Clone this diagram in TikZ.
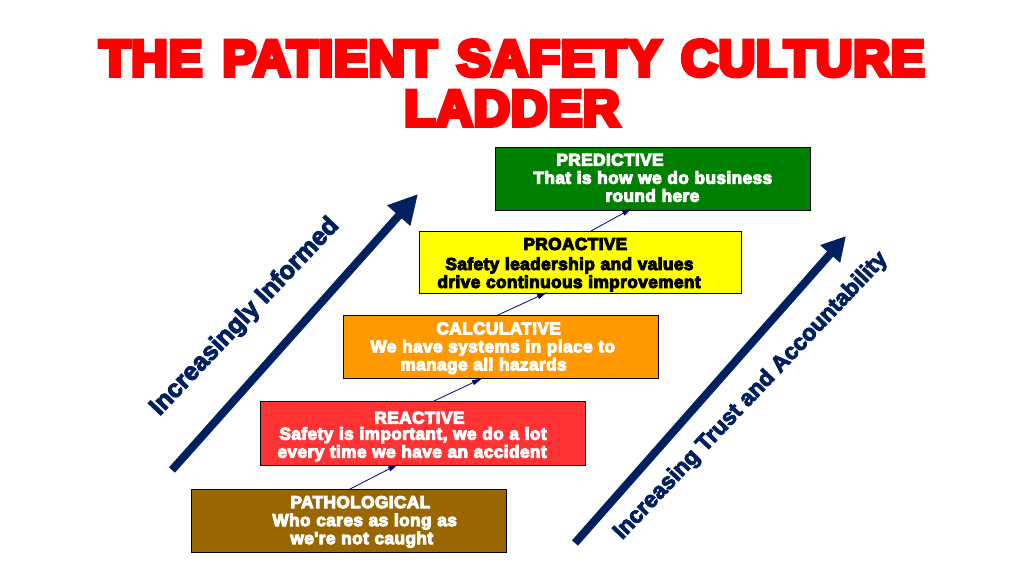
\documentclass[tikz,border=0pt]{standalone}
\usepackage{fontspec}
\usetikzlibrary{arrows.meta,calc}
\setmainfont{Liberation Sans}
\newfontfamily\heavy{Liberation Sans Bold}[FakeBold=6,LetterSpace=2.5,WordSpace=1.8]
\newfontfamily\heavytitle{Liberation Sans Bold}[FakeBold=9,LetterSpace=1.8,WordSpace=1.34]
\newfontfamily\heavyside{Liberation Sans Bold}[FakeBold=4]
\definecolor{navyline}{HTML}{002060}
\definecolor{conn}{HTML}{000080}
\definecolor{brownbox}{HTML}{996600}
\definecolor{redbox}{HTML}{FF3333}
\definecolor{orangebox}{HTML}{FF9900}
\definecolor{greenbox}{HTML}{008000}
\definecolor{yellowbox}{HTML}{FFFF00}
\tikzset{
  stepbox/.style={draw=black,line width=0.9pt,anchor=north west,inner xsep=0pt,inner ysep=0pt,
    align=left,font=\heavy\fontsize{17.2}{18}\selectfont},
  link/.style={draw=conn,line width=0.8pt,-{Triangle[length=10pt,width=5pt]}},
  bigarrow/.style={draw=navyline,line width=8pt,-{Triangle[length=29pt,width=29pt]}},
  sidelabel/.style={text=navyline,rotate=46.5,inner sep=0pt},
  titletext/.style={text=red,font=\heavytitle\fontsize{50.6}{50}\selectfont,align=center,inner sep=0pt}
}
\begin{document}
\begin{tikzpicture}[x=1pt,y=-1pt]
\useasboundingbox (0,0) rectangle (1024,576);
\node[titletext] (title) at (512,83) {THE PATIENT SAFETY CULTURE\\LADDER};

\node[stepbox,fill=brownbox,text=white,text width=314.5pt,minimum height=62.5pt] (path) at (191,489)
  {\rule{0pt}{14.4pt}\hspace*{99pt}PATHOLOGICAL\\\hspace*{81pt}Who cares as long as\\\hspace*{99pt}we're not caught};
\node[stepbox,fill=redbox,text=white,text width=324.5pt,minimum height=63.5pt] (react) at (260,401)
  {\rule{0pt}{18.5pt}\hspace*{114pt}REACTIVE\\[-2pt]\hspace*{19pt}Safety is important, we do a lot\\\hspace*{17pt}every time we have an accident};
\node[stepbox,fill=orangebox,text=white,text width=314.5pt,minimum height=62.5pt] (calc) at (343,315)
  {\rule{0pt}{15pt}\hspace*{93pt}CALCULATIVE\\\hspace*{27pt}We have systems in place to\\\hspace*{57pt}manage all hazards};
\node[stepbox,fill=yellowbox,text=black,text width=321.5pt,minimum height=61.5pt] (proact) at (419,231)
  {\rule{0pt}{17pt}\hspace*{104pt}PROACTIVE\\[2pt]\hspace*{26pt}Safety leadership and values\\\hspace*{18pt}drive continuous improvement};
\node[stepbox,fill=greenbox,text=white,text width=314.5pt,minimum height=62.5pt] (pred) at (495,147)
  {\hspace*{61pt}PREDICTIVE\\\hspace*{38pt}That is how we do business\\\hspace*{110pt}round here\rule[-2pt]{0pt}{0pt}};

\draw[link] ([xshift=159pt]path.north west) -- ([xshift=138pt,yshift=1pt]react.south west);
\draw[link] ([xshift=174pt]react.north west) -- ([xshift=139pt]calc.south west);
\draw[link] ([xshift=155pt]calc.north west) -- ([xshift=128pt,yshift=1pt]proact.south west);
\draw[link] ([xshift=172pt]proact.north west) -- ([xshift=137pt,yshift=2pt]pred.south west);

\coordinate (ltail) at (172,470);
\coordinate (ltip) at (418,194);
\coordinate (rtail) at (575,543);
\coordinate (rtip) at (846,236);
\draw[bigarrow] (ltail) -- (ltip);
\draw[draw=navyline,line width=8pt,-{Triangle[length=24pt,width=25pt]}] (rtail) -- (rtip);

\node[sidelabel,font=\heavyside\fontsize{25.2}{26}\selectfont] (linformed) at (245,317) {Increasingly Informed};
\node[sidelabel,font=\heavyside\fontsize{22.8}{26}\selectfont] (rtrust) at (751,396) {Increasing Trust and Accountability};
\end{tikzpicture}
\end{document}
